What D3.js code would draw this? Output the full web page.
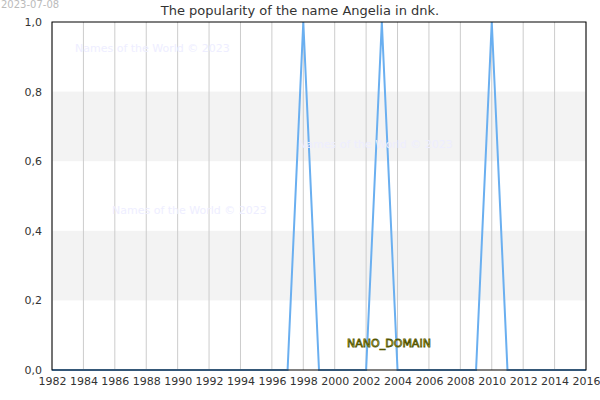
<!DOCTYPE html>
<html><head><meta charset="utf-8">
<script src="https://cdn.jsdelivr.net/npm/d3@7"></script>
<style>body{margin:0;background:#fff}text{font-family:"DejaVu Sans",sans-serif}</style>
</head><body>
<svg id="chart" width="600" height="400"></svg>
<script>
// Data
const years = d3.range(1982, 2017);
const peakYears = [1998, 2003, 2010];
const values = years.map(y => peakYears.includes(y) ? 1 : 0);
const yTicks = [0, 0.2, 0.4, 0.6, 0.8, 1.0];
const xTicks = d3.range(1982, 2017, 2);

const margin = { top: 22, right: 14, bottom: 30, left: 52 },
    width = 600 - margin.left - margin.right,
    height = 400 - margin.top - margin.bottom;

const svg = d3.select("#chart");
const g = svg.append("g").attr("transform", `translate(${margin.left},${margin.top})`);

const x = d3.scaleLinear().domain([1982, 2016]).range([0, width]);
const y = d3.scaleLinear().domain([0, 1]).range([height, 0]);

// gray bands
[[0.2, 0.4], [0.6, 0.8]].forEach(([a, b]) => {
    g.append("rect").attr("x", 0).attr("width", width)
        .attr("y", y(b)).attr("height", y(a) - y(b)).attr("fill", "#f3f3f3");
});

// vertical grid
g.selectAll(".vgrid").data(xTicks).join("line")
    .attr("x1", d => x(d)).attr("x2", d => x(d))
    .attr("y1", 0).attr("y2", height)
    .attr("stroke", "#ccc");

// watermarks
[["Names of the World © 2023", 75, 52], ["Names of the World © 2023", 298, 148], ["Names of the World © 2023", 112, 214]]
    .forEach(([t, tx, ty]) => svg.append("text").attr("x", tx).attr("y", ty)
        .attr("font-size", 11).attr("fill", "#eeeeff").text(t));

const line = d3.line().x((d, i) => x(years[i])).y(d => y(d));
g.append("path").datum(values).attr("fill", "none")
    .attr("stroke", "#6aaff0").attr("stroke-width", 2).attr("d", line);

// frame
g.append("rect").attr("width", width).attr("height", height)
    .attr("fill", "none").attr("stroke", "#000");

const xAxis = g.append("g").attr("transform", `translate(0,${height})`)
    .call(d3.axisBottom(x).tickValues(xTicks).tickFormat(d3.format("d")).tickSize(0).tickPadding(7));
const yAxis = g.append("g")
    .call(d3.axisLeft(y).tickValues(yTicks).tickFormat(d => d3.format(".1f")(d).replace(".", ",")).tickSize(0).tickPadding(10));
[xAxis, yAxis].forEach(a => {
    a.select(".domain").remove();
    a.selectAll("text").attr("font-size", 11).attr("fill", "#333").style("font-family", "DejaVu Sans");
});

svg.append("text").attr("x", 300).attr("y", 15).attr("text-anchor", "middle")
    .attr("font-size", 13).attr("fill", "#333").text("The popularity of the name Angelia in dnk.");
svg.append("text").attr("x", 1).attr("y", 8).attr("font-size", 10).attr("fill", "#bbb").text("2023-07-08");

svg.append("text").attr("x", 389).attr("y", 347).attr("text-anchor", "middle")
    .attr("font-size", 11).attr("fill", "#ffff88").attr("stroke", "#555500").attr("stroke-width", 0.8)
    .text("NANO_DOMAIN");
</script>
</body></html>
